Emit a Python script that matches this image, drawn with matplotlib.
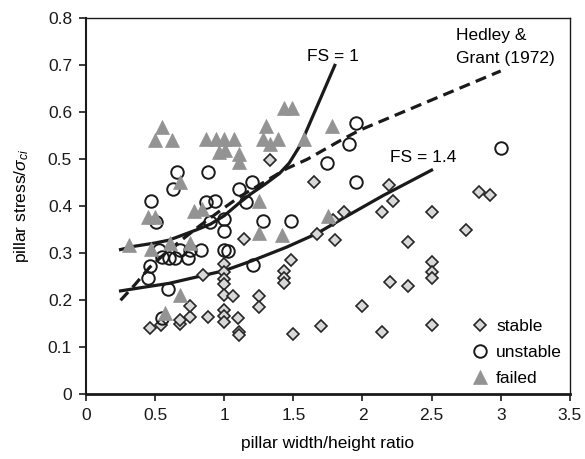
import numpy as np
import matplotlib
matplotlib.use("Agg")
import matplotlib.pyplot as plt
from matplotlib.ticker import FuncFormatter

plt.rcParams['font.family'] = ['Liberation Sans', 'DejaVu Sans']
plt.rcParams['mathtext.fontset'] = 'custom'
plt.rcParams['mathtext.rm'] = 'Liberation Sans'
plt.rcParams['mathtext.it'] = 'Liberation Sans:italic'

### Data
stable_x = [0.46, 0.54, 0.68, 0.68, 0.75, 0.75, 0.88, 0.85, 1.0, 1.0, 1.0, 1.0, 1.0, 1.06,
            1.0, 1.0, 1.0, 1.10, 1.11, 1.11, 1.14, 1.25, 1.25, 1.33, 1.43, 1.43, 1.43, 1.48,
            1.50, 1.65, 1.67, 1.70, 1.79, 1.80, 1.87, 2.0, 2.14, 2.14, 2.19, 2.20, 2.22,
            2.33, 2.33, 2.50, 2.50, 2.50, 2.50, 2.50, 2.75, 2.84, 2.92]
stable_y = [0.142, 0.148, 0.149, 0.159, 0.165, 0.187, 0.165, 0.253, 0.278, 0.26, 0.246, 0.235,
            0.211, 0.209, 0.179, 0.167, 0.153, 0.162, 0.133, 0.126, 0.331, 0.209, 0.186, 0.499,
            0.262, 0.248, 0.236, 0.286, 0.128, 0.452, 0.342, 0.146, 0.371, 0.328, 0.387, 0.187,
            0.387, 0.133, 0.445, 0.239, 0.411, 0.325, 0.230, 0.387, 0.281, 0.26, 0.248, 0.147,
            0.349, 0.43, 0.424]

unstable_x = [0.45, 0.46, 0.47, 0.51, 0.53, 0.55, 0.55, 0.59, 0.60, 0.645, 0.63, 0.66, 0.68,
              0.74, 0.75, 0.83, 0.88, 0.87, 0.93, 0.90, 1.0, 1.0, 1.0, 1.03, 1.11, 1.16, 1.20,
              1.21, 1.28, 1.48, 1.74, 1.90, 1.95, 1.95, 3.0]
unstable_y = [0.248, 0.272, 0.412, 0.367, 0.308, 0.163, 0.292, 0.223, 0.29, 0.29, 0.437, 0.472,
              0.308, 0.29, 0.308, 0.306, 0.472, 0.409, 0.411, 0.366, 0.373, 0.348, 0.308, 0.305,
              0.437, 0.410, 0.452, 0.275, 0.368, 0.368, 0.492, 0.533, 0.578, 0.451, 0.525]

failed_x = [0.31, 0.45, 0.50, 0.47, 0.55, 0.50, 0.62, 0.61, 0.68, 0.75, 0.68, 0.57, 0.78, 0.84,
            0.87, 0.94, 1.0, 1.07, 0.96, 1.005, 1.11, 1.11, 1.25, 1.25, 1.42, 1.30, 1.28, 1.33,
            1.39, 1.43, 1.49, 1.58, 1.78, 1.75]
failed_y = [0.317, 0.377, 0.377, 0.31, 0.568, 0.541, 0.541, 0.322, 0.451, 0.322, 0.211, 0.172,
            0.391, 0.395, 0.543, 0.543, 0.543, 0.543, 0.515, 0.52, 0.511, 0.494, 0.412, 0.343,
            0.338, 0.571, 0.543, 0.533, 0.543, 0.61, 0.609, 0.543, 0.571, 0.38]

fs1_x = [0.25, 0.35, 0.5, 0.6, 0.7, 0.8, 0.9, 1.0, 1.1, 1.2, 1.3, 1.4, 1.47, 1.55, 1.8]
fs1_y = [0.308, 0.315, 0.322, 0.328, 0.339, 0.35, 0.362, 0.38, 0.405, 0.428, 0.448, 0.47,
         0.492, 0.53, 0.70]

fs14_x = [0.25, 0.4, 0.6, 0.85, 1.0, 1.2, 1.45, 1.67, 1.85, 2.15, 2.5]
fs14_y = [0.22, 0.227, 0.236, 0.253, 0.263, 0.284, 0.313, 0.342, 0.373, 0.423, 0.477]

hg_x = [0.25, 0.35, 0.46, 0.6, 0.82, 1.0, 1.11, 1.45, 1.6, 1.84, 1.98, 3.0]
hg_y = [0.2, 0.232, 0.27, 0.307, 0.358, 0.397, 0.42, 0.48, 0.5, 0.54, 0.562, 0.688]

x_ticks = [0, 0.5, 1, 1.5, 2, 2.5, 3, 3.5]
y_ticks = [0, 0.1, 0.2, 0.3, 0.4, 0.5, 0.6, 0.7, 0.8]

### Plot
fig = plt.figure(figsize=(5.85, 4.59), dpi=100)
ax = fig.add_axes([0.147, 0.141, 0.827, 0.819])

ax.plot(fs1_x, fs1_y, color='#1a1a1a', lw=2.3, zorder=2)
ax.plot(fs14_x, fs14_y, color='#1a1a1a', lw=2.3, zorder=2)
ax.plot(hg_x, hg_y, color='#1a1a1a', lw=2.3, ls=(0, (3.5, 2.0)), zorder=2)

ax.plot(stable_x, stable_y, 'D', ms=6.6, mfc='#d9d9d9', mec='#262626', mew=1.2,
        ls='none', label='stable', zorder=3)
ax.plot(unstable_x, unstable_y, 'o', ms=9, mfc='none', mec='#1a1a1a', mew=1.4,
        ls='none', label='unstable', zorder=4)
ax.plot(failed_x, failed_y, '^', ms=9.5, mfc='#939393', mec='#939393', mew=0.5,
        ls='none', label='failed', zorder=5)

ax.text(1.79, 0.718, 'FS = 1', fontsize=12.5, ha='center', va='center')
ax.text(2.44, 0.504, 'FS = 1.4', fontsize=12.5, ha='center', va='center')
ax.text(2.68, 0.764, 'Hedley &', fontsize=12.5, ha='left', va='center')
ax.text(2.68, 0.715, 'Grant (1972)', fontsize=12.5, ha='left', va='center')

ax.set_xlim(0, 3.5)
ax.set_ylim(0, 0.8)
ax.set_xticks(x_ticks)
ax.set_yticks(y_ticks)
fmt = FuncFormatter(lambda v, p: '{:g}'.format(round(v, 2)))
ax.xaxis.set_major_formatter(fmt)
ax.yaxis.set_major_formatter(fmt)
ax.tick_params(direction='out', length=5, width=1.2, labelsize=12.5, colors='#1a1a1a', pad=5)

ax.set_xlabel('pillar width/height ratio', fontsize=12.5, labelpad=9)
ax.set_ylabel(r'pillar stress/$\sigma_{ci}$', fontsize=12.5, labelpad=12)

ax.spines['bottom'].set_linewidth(2.0)
ax.spines['left'].set_linewidth(1.5)
ax.spines['top'].set_linewidth(1.0)
ax.spines['right'].set_linewidth(1.0)
for s in ax.spines.values():
    s.set_color('#1a1a1a')

ax.legend(loc='lower right', frameon=False, fontsize=12.5, handletextpad=0.35,
          labelspacing=0.65, borderaxespad=0.05, handlelength=1.2)

fig.savefig('out.png', dpi=100)
